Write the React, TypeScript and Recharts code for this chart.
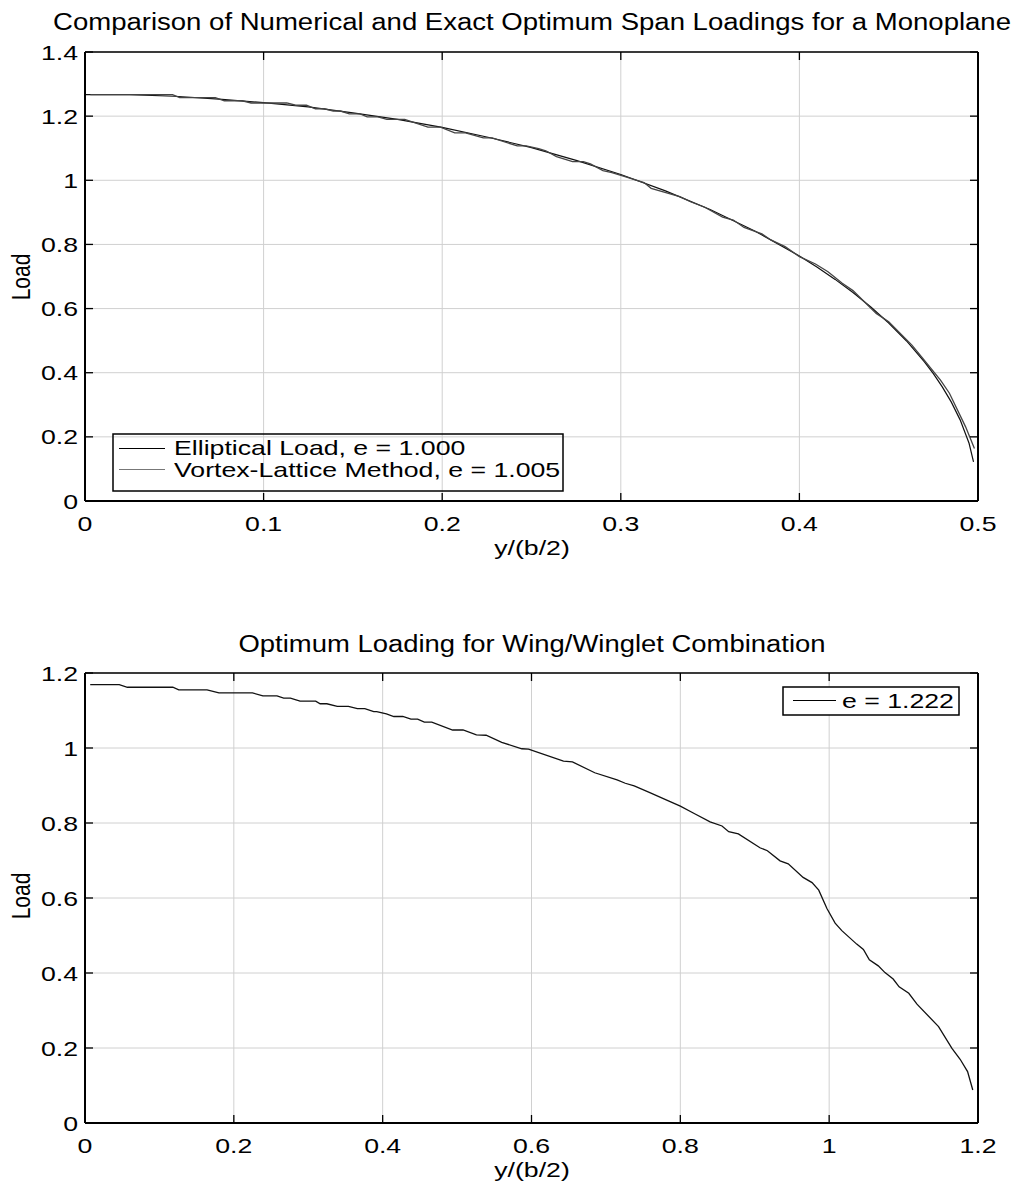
import React from 'react';
import { LineChart, Line, XAxis, YAxis, CartesianGrid, Legend } from 'recharts';

const FONT = '"Liberation Sans", Arial, Helvetica, sans-serif';
const SX = 1.27; // the reference is stretched sideways

// top panel: elliptical vs vortex-lattice loading
const ellipX = [0, 0.025, 0.05, 0.075, 0.1, 0.125, 0.15, 0.175, 0.2, 0.225, 0.25, 0.275, 0.3, 0.325, 0.35, 0.375, 0.4, 0.41, 0.42, 0.43, 0.44, 0.45, 0.46, 0.47, 0.475, 0.48, 0.485, 0.49, 0.495, 0.4975];
const ellipLoad = [1.267, 1.267, 1.262, 1.253, 1.242, 1.229, 1.21, 1.19, 1.165, 1.135, 1.102, 1.062, 1.018, 0.967, 0.909, 0.842, 0.764, 0.729, 0.691, 0.65, 0.605, 0.555, 0.499, 0.434, 0.397, 0.356, 0.309, 0.253, 0.18, 0.122];

const vlmX = [0.003, 0.049, 0.053, 0.073, 0.078, 0.088, 0.093, 0.113, 0.118, 0.124, 0.129, 0.134, 0.139, 0.143, 0.148, 0.154, 0.158, 0.164, 0.169, 0.179, 0.192, 0.199, 0.207, 0.213, 0.223, 0.228, 0.242, 0.247, 0.254, 0.258, 0.264, 0.273, 0.279, 0.283, 0.29, 0.295, 0.301, 0.313, 0.317, 0.333, 0.339, 0.347, 0.357, 0.363, 0.369, 0.379, 0.384, 0.392, 0.4, 0.409, 0.416, 0.424, 0.43, 0.443, 0.45, 0.463, 0.469, 0.479, 0.484, 0.493, 0.498];
const vlmLoad = [1.267, 1.267, 1.258, 1.258, 1.248, 1.248, 1.241, 1.241, 1.234, 1.234, 1.223, 1.223, 1.216, 1.216, 1.207, 1.207, 1.198, 1.198, 1.19, 1.19, 1.166, 1.166, 1.148, 1.148, 1.132, 1.132, 1.107, 1.107, 1.099, 1.092, 1.074, 1.058, 1.058, 1.051, 1.03, 1.024, 1.014, 0.993, 0.975, 0.949, 0.933, 0.916, 0.885, 0.876, 0.853, 0.833, 0.814, 0.793, 0.762, 0.739, 0.715, 0.679, 0.656, 0.585, 0.559, 0.486, 0.445, 0.377, 0.336, 0.232, 0.164];

// bottom panel: wing/winglet optimum
const wingX = [0.007, 0.046, 0.057, 0.118, 0.126, 0.164, 0.18, 0.225, 0.239, 0.258, 0.267, 0.276, 0.289, 0.31, 0.316, 0.325, 0.339, 0.354, 0.366, 0.376, 0.388, 0.392, 0.405, 0.415, 0.427, 0.438, 0.447, 0.456, 0.466, 0.494, 0.508, 0.526, 0.539, 0.56, 0.587, 0.596, 0.643, 0.655, 0.685, 0.715, 0.726, 0.738, 0.759, 0.784, 0.8, 0.818, 0.84, 0.856, 0.865, 0.878, 0.907, 0.917, 0.934, 0.945, 0.965, 0.977, 0.986, 0.997, 1.008, 1.017, 1.037, 1.046, 1.054, 1.066, 1.075, 1.086, 1.094, 1.107, 1.118, 1.147, 1.165, 1.176, 1.186, 1.193];
const wingLoad = [1.169, 1.169, 1.162, 1.162, 1.155, 1.155, 1.147, 1.147, 1.139, 1.139, 1.133, 1.133, 1.125, 1.125, 1.118, 1.118, 1.111, 1.111, 1.105, 1.105, 1.097, 1.097, 1.091, 1.084, 1.084, 1.077, 1.077, 1.069, 1.069, 1.048, 1.048, 1.035, 1.034, 1.015, 0.998, 0.997, 0.965, 0.963, 0.934, 0.915, 0.906, 0.899, 0.881, 0.859, 0.845, 0.826, 0.803, 0.792, 0.777, 0.771, 0.734, 0.726, 0.699, 0.691, 0.655, 0.641, 0.621, 0.572, 0.533, 0.513, 0.477, 0.463, 0.435, 0.419, 0.401, 0.384, 0.363, 0.346, 0.317, 0.257, 0.199, 0.17, 0.137, 0.088];

const topXTicks = [0, 0.1, 0.2, 0.3, 0.4, 0.5];
const topYTicks = [0, 0.2, 0.4, 0.6, 0.8, 1, 1.2, 1.4];
const botXTicks = [0, 0.2, 0.4, 0.6, 0.8, 1, 1.2];
const botYTicks = [0, 0.2, 0.4, 0.6, 0.8, 1, 1.2];

const topTitle = 'Comparison of Numerical and Exact Optimum Span Loadings for a Monoplane';
const botTitle = 'Optimum Loading for Wing/Winglet Combination';
const xLabel = 'y/(b/2)';
const yLabel = 'Load';
const ellipName = 'Elliptical Load, e = 1.000';
const vlmName = 'Vortex-Lattice Method, e = 1.005';
const wingName = 'e = 1.222';

const toRows = (xs: number[], ys: number[]) => xs.map((x, i) => ({ x, load: ys[i] }));
const ellipData = toRows(ellipX, ellipLoad);
const vlmData = toRows(vlmX, vlmLoad);
const wingData = toRows(wingX, wingLoad);

const fmt = (v: number) => String(Number(v.toFixed(2)));

const txt = { fontSize: 21, fontFamily: FONT, fill: '#000' };

const BottomTick = (props: any) => {
  const { x, y, payload } = props;
  return (
    <g>
      <line x1={x} x2={x} y1={y} y2={y - 8} stroke="#000" strokeWidth={1.3} />
      <text transform={`translate(${x},${y + 30}) scale(${SX},1)`} textAnchor="middle" {...txt}>
        {fmt(payload.value)}
      </text>
    </g>
  );
};
const TopTick = (props: any) => {
  const { x, y } = props;
  return <line x1={x} x2={x} y1={y} y2={y + 8} stroke="#000" strokeWidth={1.3} />;
};
const LeftTick = (props: any) => {
  const { x, y, payload } = props;
  return (
    <g>
      <line x1={x} x2={x + 8} y1={y} y2={y} stroke="#000" strokeWidth={1.3} />
      <text transform={`translate(${x - 7},${y + 7.5}) scale(${SX},1)`} textAnchor="end" {...txt}>
        {fmt(payload.value)}
      </text>
    </g>
  );
};
const RightTick = (props: any) => {
  const { x, y } = props;
  return <line x1={x} x2={x - 8} y1={y} y2={y} stroke="#000" strokeWidth={1.3} />;
};

const TopLegend = () => (
  <svg width={452} height={59} style={{ display: 'block' }}>
    <rect x={1} y={1} width={450} height={57} fill="none" stroke="#000" strokeWidth={1.5} />
    <line x1={7} x2={53} y1={15.5} y2={15.5} stroke="#000" strokeWidth={1.2} />
    <text transform={`translate(62,22) scale(${SX},1)`} {...txt}>{ellipName}</text>
    <line x1={7} x2={53} y1={36.5} y2={36.5} stroke="#777" strokeWidth={1.2} />
    <text transform={`translate(62,43.5) scale(${SX},1)`} {...txt}>{vlmName}</text>
  </svg>
);

const BotLegend = () => (
  <svg width={178} height={30} style={{ display: 'block' }}>
    <rect x={1} y={1} width={176} height={28} fill="#fff" stroke="#000" strokeWidth={1.5} />
    <line x1={11} x2={54} y1={14.5} y2={14.5} stroke="#000" strokeWidth={1.2} />
    <text transform={`translate(60,22) scale(${SX},1)`} {...txt}>{wingName}</text>
  </svg>
);

const Overlay = ({ title, titleY, titleLen, labelY, loadY }: any) => (
  <svg width={1018} height={592} style={{ position: 'absolute', left: 0, top: 0, pointerEvents: 'none' }}>
    <text x={532} y={titleY} textAnchor="middle" fontSize={23} fontFamily={FONT} fill="#000"
      textLength={titleLen} lengthAdjust="spacingAndGlyphs">{title}</text>
    <text transform={`translate(532,${labelY}) scale(${SX},1)`} textAnchor="middle" {...txt}>{xLabel}</text>
    <text transform={`translate(30,${loadY}) scale(${SX},1) rotate(-90)`} textAnchor="middle" {...txt}>{yLabel}</text>
  </svg>
);

const Panel = ({ margin, xTicks, yTicks, xMax, yMax, children }: any) => (
  <LineChart width={1018} height={592} margin={margin}>
    <CartesianGrid xAxisId="b" yAxisId="l" stroke="#d0d0d0" strokeWidth={1} fill="#fff" />
    <XAxis xAxisId="b" dataKey="x" type="number" domain={[0, xMax]} ticks={xTicks} interval={0}
      height={30} tickSize={0} tickMargin={0} tickLine={false} tick={<BottomTick />}
      axisLine={{ stroke: '#000', strokeWidth: 2 }} allowDataOverflow />
    <XAxis xAxisId="t" orientation="top" dataKey="x" type="number" domain={[0, xMax]} ticks={xTicks} interval={0}
      height={1} tickSize={0} tickMargin={0} tickLine={false} tick={<TopTick />}
      axisLine={{ stroke: '#000', strokeWidth: 1.3 }} allowDataOverflow />
    <YAxis yAxisId="l" type="number" domain={[0, yMax]} ticks={yTicks} interval={0} width={60}
      tickSize={0} tickMargin={0} tickLine={false} tick={<LeftTick />}
      axisLine={{ stroke: '#000', strokeWidth: 2 }} allowDataOverflow />
    <YAxis yAxisId="r" orientation="right" type="number" domain={[0, yMax]} ticks={yTicks} interval={0} width={1}
      tickSize={0} tickMargin={0} tickLine={false} tick={<RightTick />}
      axisLine={{ stroke: '#000', strokeWidth: 2 }} allowDataOverflow />
    {children}
  </LineChart>
);

export default function App() {
  return (
    <div style={{ position: 'absolute', left: 0, top: 0, width: 1018, height: 1184, background: '#fff' }}>
      <div style={{ position: 'relative', width: 1018, height: 592 }}>
        <Panel margin={{ top: 51, right: 39, left: 25, bottom: 61 }} xTicks={topXTicks} yTicks={topYTicks} xMax={0.5} yMax={1.4}>
          <Line xAxisId="b" yAxisId="l" data={ellipData} dataKey="load" type="linear" dot={false}
            stroke="#111" strokeWidth={1.2} isAnimationActive={false} />
          <Line xAxisId="b" yAxisId="l" data={vlmData} dataKey="load" type="linear" dot={false}
            stroke="#444" strokeWidth={1.3} isAnimationActive={false} />
          <Legend layout="vertical" align="center" verticalAlign="middle" content={<TopLegend />}
            wrapperStyle={{ position: 'absolute', left: 112, top: 433, width: 452, height: 59 }} />
        </Panel>
        <Overlay title={topTitle} titleY={29.5} titleLen={958} labelY={555} loadY={277} />
      </div>
      <div style={{ position: 'relative', width: 1018, height: 592 }}>
        <Panel margin={{ top: 80, right: 39, left: 25, bottom: 31 }} xTicks={botXTicks} yTicks={botYTicks} xMax={1.2} yMax={1.2}>
          <Line xAxisId="b" yAxisId="l" data={wingData} dataKey="load" type="linear" dot={false}
            stroke="#111" strokeWidth={1.3} isAnimationActive={false} />
          <Legend layout="vertical" align="center" verticalAlign="middle" content={<BotLegend />}
            wrapperStyle={{ position: 'absolute', left: 782, top: 94, width: 178, height: 30 }} />
        </Panel>
        <Overlay title={botTitle} titleY={60} titleLen={587} labelY={585} loadY={304} />
      </div>
    </div>
  );
}
